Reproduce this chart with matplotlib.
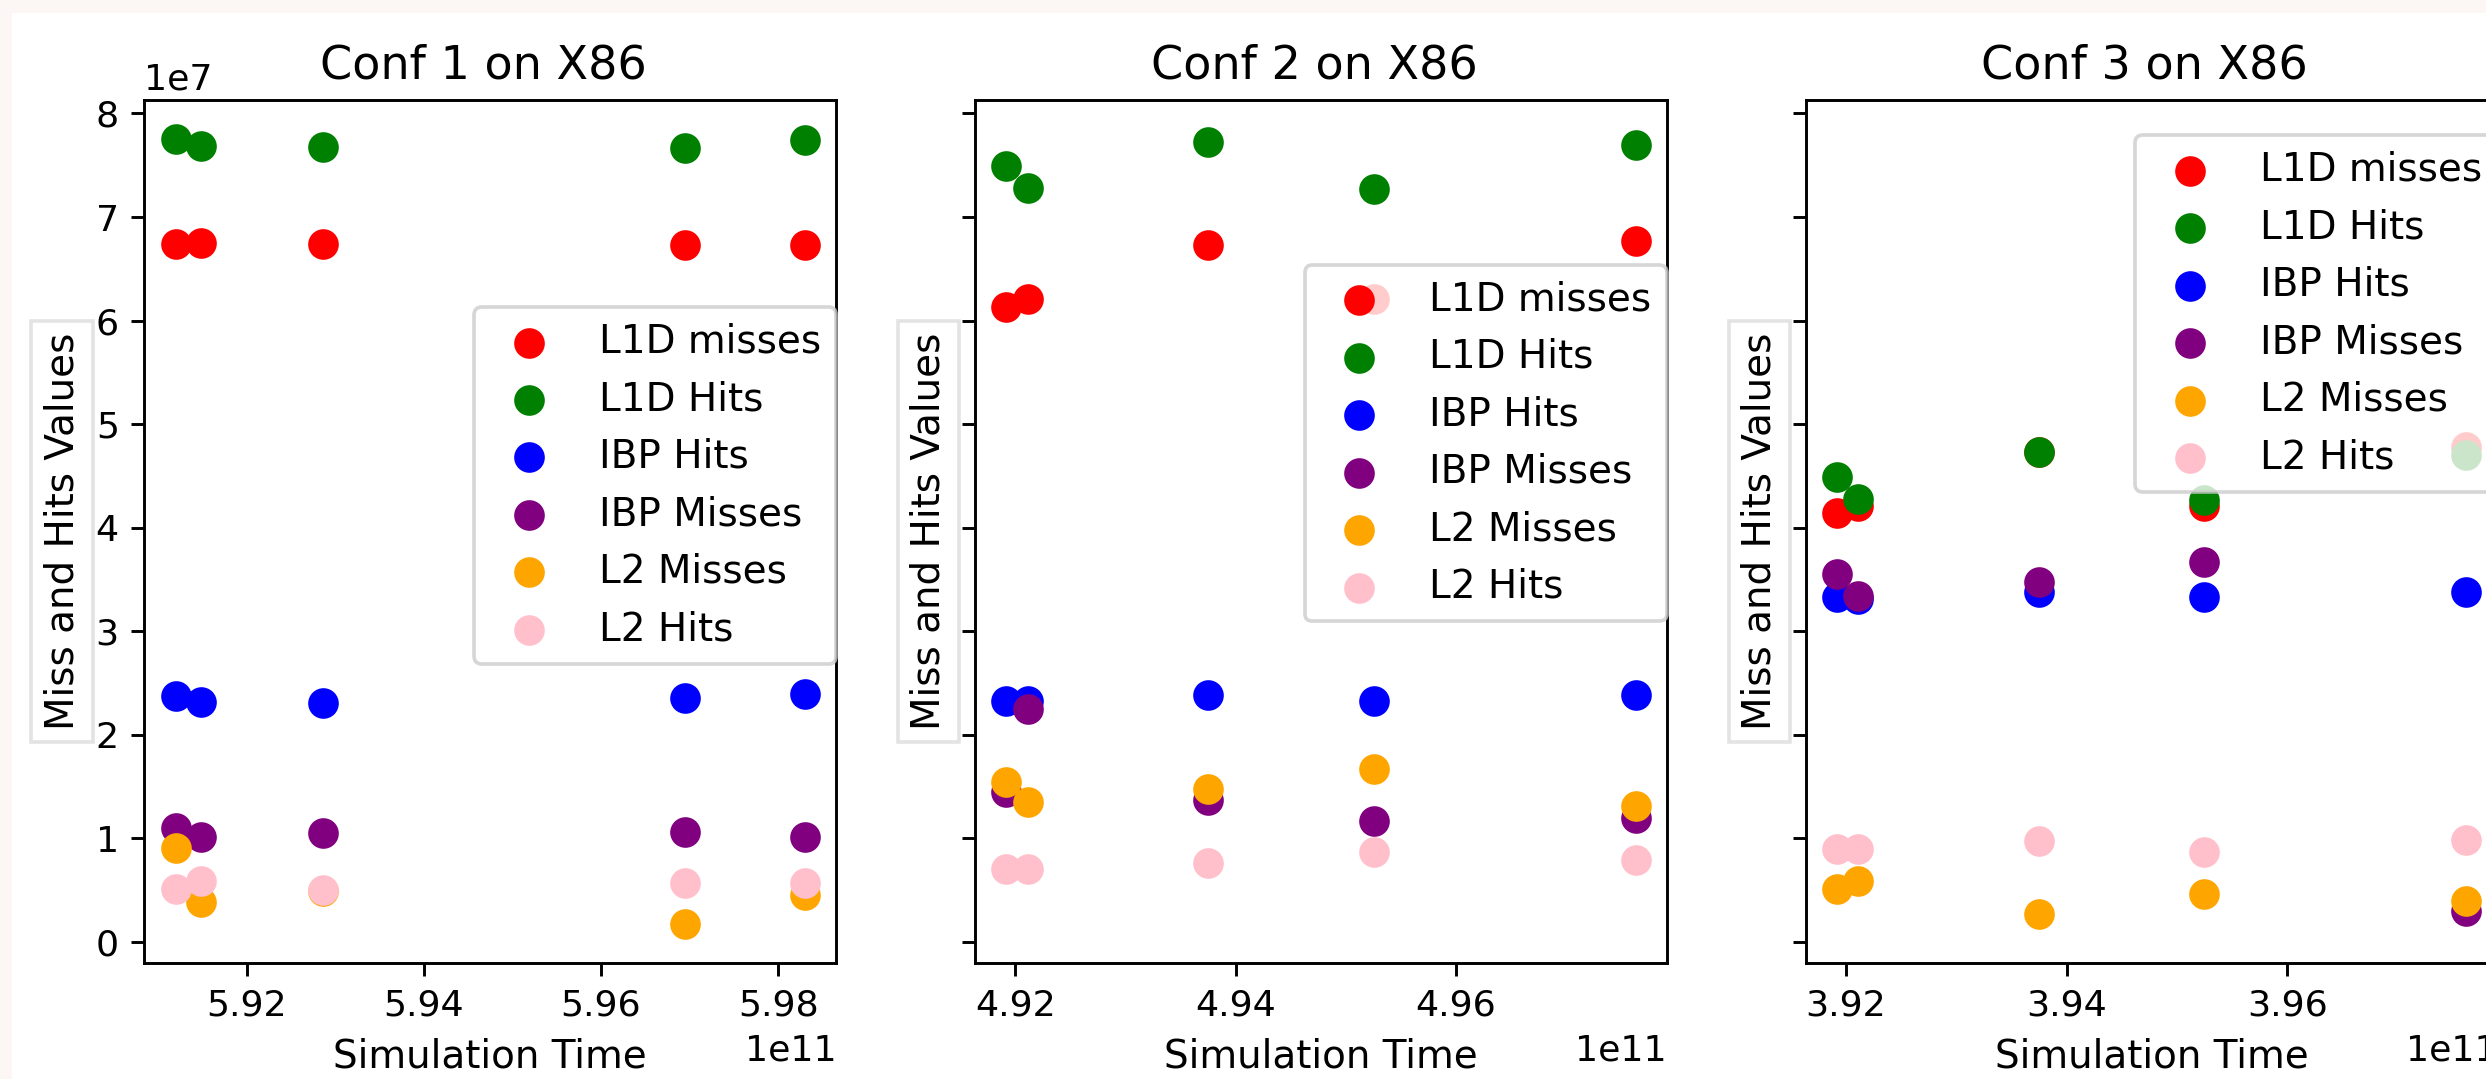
import numpy as np
import matplotlib
matplotlib.use("Agg")
import matplotlib.pyplot as plt
from matplotlib.patches import Rectangle

# values (times in 1e11, counts in 1e7)
series_names = ["L1D misses", "L1D Hits", "IBP Hits", "IBP Misses", "L2 Misses", "L2 Hits"]
series_colors = ["red", "green", "blue", "purple", "orange", "pink"]
titles = ["Conf 1 on X86", "Conf 2 on X86", "Conf 3 on X86"]

conf1_time = [5.9120, 5.9149, 5.9286, 5.9695, 5.9830]
conf1_l1d_miss = [6.736, 6.752, 6.74, 6.73, 6.73]
conf1_l1d_hit = [7.751, 7.687, 7.68, 7.67, 7.74]
conf1_ibp_hit = [2.375, 2.32, 2.31, 2.36, 2.39]
conf1_ibp_miss = [1.096, 1.016, 1.049, 1.06, 1.016]
conf1_l2_miss = [0.906, 0.388, 0.49, 0.173, 0.458]
conf1_l2_hit = [0.508, 0.585, 0.498, 0.568, 0.565]

conf2_time = [4.91921, 4.92113, 4.93751, 4.95252, 4.97629]
conf2_l1d_miss = [6.133, 6.213, 6.727, 6.213, 6.767]
conf2_l1d_hit = [7.493, 7.28, 7.727, 7.273, 7.693]
conf2_ibp_hit = [2.327, 2.327, 2.38, 2.327, 2.38]
conf2_ibp_miss = [1.447, 2.247, 1.367, 1.167, 1.2]
conf2_l2_miss = [1.547, 1.347, 1.473, 1.673, 1.313]
conf2_l2_hit = [0.70, 0.70, 0.767, 0.867, 0.787]

conf3_time = [3.91918, 3.92111, 3.93749, 3.95246, 3.97618]
conf3_l1d_miss = [4.14, 4.213, 4.727, 4.213, 4.78]
conf3_l1d_hit = [4.487, 4.28, 4.727, 4.267, 4.70]
conf3_ibp_hit = [3.327, 3.313, 3.38, 3.327, 3.38]
conf3_ibp_miss = [3.553, 3.34, 3.48, 3.673, 0.30]
conf3_l2_miss = [0.513, 0.593, 0.267, 0.467, 0.393]
conf3_l2_hit = [0.90, 0.893, 0.973, 0.873, 0.987]

confs = [
    (conf1_time, [conf1_l1d_miss, conf1_l1d_hit, conf1_ibp_hit, conf1_ibp_miss, conf1_l2_miss, conf1_l2_hit]),
    (conf2_time, [conf2_l1d_miss, conf2_l1d_hit, conf2_ibp_hit, conf2_ibp_miss, conf2_l2_miss, conf2_l2_hit]),
    (conf3_time, [conf3_l1d_miss, conf3_l1d_hit, conf3_ibp_hit, conf3_ibp_miss, conf3_l2_miss, conf3_l2_hit]),
]

W, H, DPI = 2486, 1079, 262
fig = plt.figure(figsize=(W / DPI, H / DPI), dpi=DPI)
fig.patch.set_facecolor("#fcf7f5")
fig.add_artist(Rectangle((12 / W, 0), 1, (H - 13) / H, transform=fig.transFigure,
                         facecolor="white", edgecolor="none", zorder=-1))

# axes placement in pixels (left edges); third panel runs off the right edge
lefts = [144.3, 975.0, 1805.5]
ax_w, ax_top, ax_bot = 692.0, 100.0, 963.3
# legend upper-right anchor in axes fraction
leg_anchor = [(1.0, 0.760), (1.0, 0.809), (1.0, 0.959)]

axes = []
for i, (t, vals) in enumerate(confs):
    rect = [lefts[i] / W, (H - ax_bot) / H, ax_w / W, (ax_bot - ax_top) / H]
    ax = fig.add_axes(rect, sharey=axes[0] if axes else None)
    x = np.array(t) * 1e11
    for name, col, v in zip(series_names, series_colors, vals):
        ax.scatter(x, np.array(v) * 1e7, color=col, s=55, label=name)
    ax.set_title(titles[i], fontsize=12.7, x=0.49)
    ax.set_xlabel("Simulation Time", fontsize=10.7)
    ax.set_ylabel("Miss and Hits Values", fontsize=10.7,
                  bbox=dict(boxstyle="square,pad=0.3", facecolor="white", edgecolor="#e3e3e3"))
    ax.tick_params(labelsize=10)
    if i > 0:
        ax.tick_params(labelleft=False)
    ax.legend(loc="upper right", bbox_to_anchor=leg_anchor[i], borderaxespad=0, fontsize=10.7)
    axes.append(ax)

fig.savefig("out.png", dpi=DPI, facecolor=fig.get_facecolor())
